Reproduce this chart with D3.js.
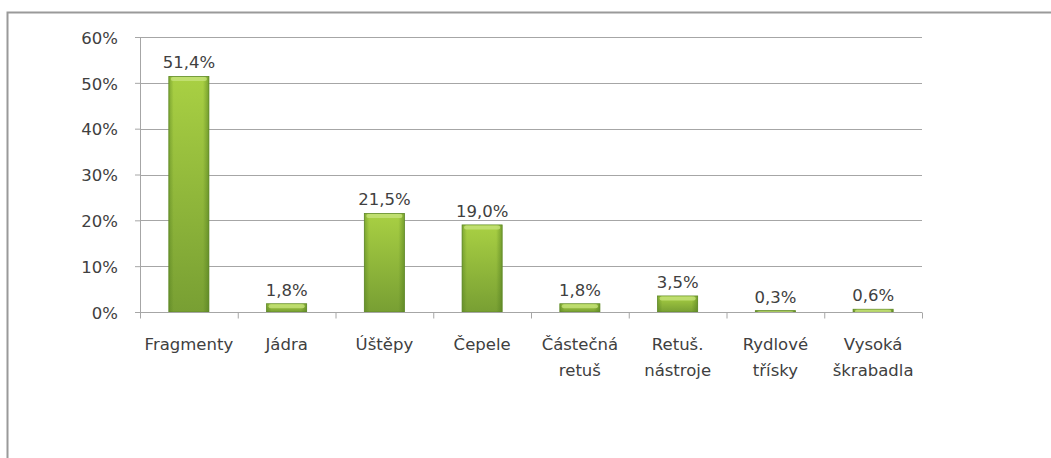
<!DOCTYPE html>
<html>
<head>
<meta charset="utf-8">
<script src="https://cdn.jsdelivr.net/npm/d3@7"></script>
<style>
  body { margin: 0; background: #fff; }
  svg { display: block; font-family: "DejaVu Sans", sans-serif; }
</style>
</head>
<body>
<div id="chart"></div>
<script>
// chart data
var categories = ["Fragmenty", "Jádra", "Úštěpy", "Čepele", "Částečná retuš", "Retuš. nástroje", "Rydlové třísky", "Vysoká škrabadla"];
var catLines = [["Fragmenty"], ["Jádra"], ["Úštěpy"], ["Čepele"], ["Částečná", "retuš"], ["Retuš.", "nástroje"], ["Rydlové", "třísky"], ["Vysoká", "škrabadla"]];
var values = [51.4, 1.8, 21.5, 19.0, 1.8, 3.5, 0.3, 0.6];
var valueLabels = ["51,4%", "1,8%", "21,5%", "19,0%", "1,8%", "3,5%", "0,3%", "0,6%"];
var yTicks = [0, 10, 20, 30, 40, 50, 60];

var svgWidth = 1051, svgHeight = 458;
var margin = { top: 37, left: 140, right: 129, bottom: 146 };
var chartWidth = svgWidth - margin.left - margin.right;
var chartHeight = svgHeight - margin.top - margin.bottom;
var fontSize = "16.5px";

var svg = d3.select("#chart").append("svg")
    .attr("width", svgWidth)
    .attr("height", svgHeight);

// outer frame
svg.append("rect")
    .attr("x", 7.5).attr("y", 12.5)
    .attr("width", svgWidth).attr("height", svgHeight)
    .style("fill", "none")
    .style("stroke", "#9a9a9a")
    .style("stroke-width", 2);

var defs = svg.append("defs");
var grad = defs.append("linearGradient").attr("id", "barGrad")
    .attr("x1", 0).attr("y1", 0).attr("x2", 0).attr("y2", 1);
grad.append("stop").attr("offset", "0%").attr("stop-color", "#a9d043");
grad.append("stop").attr("offset", "100%").attr("stop-color", "#789f33");
var side = defs.append("linearGradient").attr("id", "sideGrad")
    .attr("x1", 0).attr("y1", 0).attr("x2", 1).attr("y2", 0);
side.append("stop").attr("offset", "0%").attr("stop-color", "#4f7a1e").attr("stop-opacity", 0.45);
side.append("stop").attr("offset", "12%").attr("stop-color", "#4f7a1e").attr("stop-opacity", 0);
side.append("stop").attr("offset", "85%").attr("stop-color", "#4f7a1e").attr("stop-opacity", 0);
side.append("stop").attr("offset", "100%").attr("stop-color", "#4f7a1e").attr("stop-opacity", 0.55);

var chartGroup = svg.append("g")
    .attr("transform", `translate(${margin.left}, ${margin.top})`);

var xScale = d3.scaleBand()
    .domain(categories)
    .range([0, chartWidth])
    .paddingInner(0.59)
    .paddingOuter(0.295);

var yScale = d3.scaleLinear()
    .domain([0, 60])
    .range([chartHeight, 0]);

// gridlines
chartGroup.selectAll(".grid").data(yTicks.slice(1)).enter()
    .append("line")
    .attr("x1", 0).attr("x2", chartWidth)
    .attr("y1", d => Math.round(yScale(d)) + 0.5)
    .attr("y2", d => Math.round(yScale(d)) + 0.5)
    .style("stroke", "#a6a6a6")
    .style("stroke-width", 1);

// y axis
var yAxis = d3.axisLeft(yScale).tickValues(yTicks).tickSize(5).tickFormat(d => d + "%");
var yG = chartGroup.append("g").call(yAxis);
yG.select(".domain").attr("stroke", "#a6a6a6");
yG.selectAll(".tick line").attr("stroke", "#a6a6a6");
yG.selectAll(".tick text").attr("x", -22).attr("dy", "0.38em")
    .style("font-family", "'DejaVu Sans', sans-serif")
    .style("font-size", fontSize).style("fill", "#404040");

// bars
var bars = chartGroup.selectAll(".bar").data(values).enter().append("g");
bars.append("rect")
    .attr("x", (d, i) => xScale(categories[i]))
    .attr("y", d => yScale(d))
    .attr("width", xScale.bandwidth())
    .attr("height", d => chartHeight - yScale(d))
    .style("fill", "url(#barGrad)")
    .style("stroke", "#628c2a")
    .style("stroke-width", 0.8);
bars.append("rect")
    .attr("x", (d, i) => xScale(categories[i]))
    .attr("y", d => yScale(d))
    .attr("width", xScale.bandwidth())
    .attr("height", d => chartHeight - yScale(d))
    .style("fill", "url(#sideGrad)");
bars.append("rect")
    .attr("x", (d, i) => xScale(categories[i]) + 2)
    .attr("y", d => yScale(d) + 0.5)
    .attr("width", xScale.bandwidth() - 4)
    .attr("height", d => Math.min(4, chartHeight - yScale(d)))
    .attr("rx", 2)
    .style("fill", "#c6e27a")
    .style("opacity", 0.8);

// value labels
chartGroup.selectAll(".vlabel").data(values).enter()
    .append("text")
    .attr("x", (d, i) => xScale(categories[i]) + xScale.bandwidth() / 2)
    .attr("y", d => yScale(d) - 8)
    .attr("text-anchor", "middle")
    .style("font-size", fontSize)
    .style("fill", "#404040")
    .text((d, i) => valueLabels[i]);

// x axis
var xAxis = d3.axisBottom(d3.scaleLinear().domain([0, categories.length]).range([0, chartWidth]))
    .tickValues(d3.range(categories.length + 1)).tickSize(6).tickFormat("");
var xG = chartGroup.append("g")
    .attr("transform", `translate(0, ${chartHeight + 0.5})`)
    .call(xAxis);
xG.select(".domain").attr("stroke", "#a6a6a6").attr("d", `M0,0H${chartWidth}`);
xG.selectAll(".tick line").attr("stroke", "#a6a6a6");

// category labels
var catText = chartGroup.selectAll(".clabel").data(catLines).enter()
    .append("text")
    .attr("text-anchor", "middle")
    .attr("transform", (d, i) => `translate(${xScale(categories[i]) + xScale.bandwidth() / 2}, ${chartHeight + 38})`)
    .style("font-size", fontSize)
    .style("fill", "#404040");
catText.selectAll("tspan").data(d => d).enter()
    .append("tspan")
    .attr("x", 0)
    .attr("dy", (d, i) => i === 0 ? 0 : 26)
    .text(d => d);
</script>
</body>
</html>
